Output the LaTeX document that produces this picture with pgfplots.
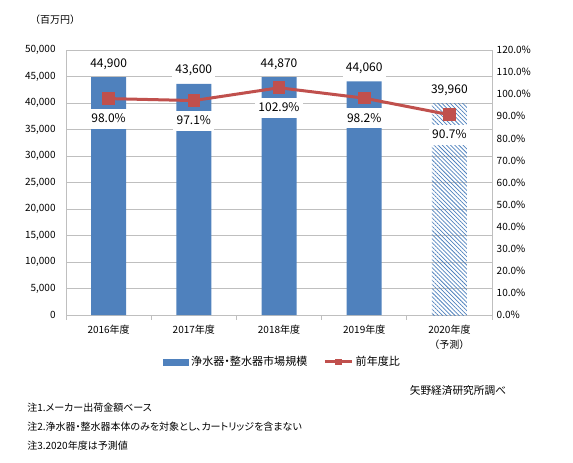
\documentclass[border=0pt]{standalone}
\usepackage{fontspec}
\setmainfont{Noto Sans CJK JP}[RawFeature=+palt]
\newfontfamily\fullw{Noto Sans CJK JP}
\usepackage{pgfplots}
\pgfplotsset{compat=1.18}
\usetikzlibrary{patterns.meta}
\definecolor{barblue}{HTML}{4F81BD}
\definecolor{linered}{HTML}{C0504D}
\definecolor{gridgray}{HTML}{BFBFBF}

\pgfplotsset{
  chartbase/.style={
    at={(49.5pt,110.25pt)}, anchor=south west,
    scale only axis, width=319.5pt, height=198.75pt,
    xmin=-0.5, xmax=4.5,
    /pgf/number format/assume math mode=true,
    /pgf/number format/1000 sep={,},
  },
}
\tikzset{
  labelbox/.style={fill=white, inner xsep=2.5pt, inner ysep=3.5pt,
    text height=7pt, text depth=1pt, font=\fontsize{9}{11}\selectfont, text=black},
}

\begin{document}
\begin{tikzpicture}
\path (0,0) rectangle (429.75pt,346.5pt);

% unit label
\node[font=\fullw\fontsize{7.5}{9}\selectfont] at (41.25pt,331.5pt) {（百万円）};

\begin{axis}[
  chartbase,
  ymin=0, ymax=50000,
  ytick={0,5000,...,50000},
  scaled y ticks=false,
  yticklabel style={font=\fontsize{7.5}{9}\selectfont},
  ytick style={draw=none},
  xtick={0,...,4},
  xticklabels={2016年度,2017年度,2018年度,2019年度,{2020年度\\（予測）}},
  xticklabel style={align=center, font=\fullw\fontsize{7.5}{11}\selectfont},
  major x tick style={draw=none},
  minor xtick={-0.5,0.5,1.5,2.5,3.5,4.5},
  minor x tick style={gridgray, line width=0.75pt},
  tick align=outside, minor tick length=3.5pt,
  xtick pos=bottom, ytick pos=left,
  ymajorgrids, grid style={gridgray, line width=0.75pt},
  axis line style={gridgray, line width=0.75pt},
  nodes near coords,
  every node near coord/.append style={labelbox, anchor=center, yshift=10.5pt},
]
\addplot[ybar, bar width=26.25pt, bar shift=0pt, fill=barblue, draw=none]
  coordinates {(0,44900) (1,43600) (2,44870) (3,44060)};
\addplot[ybar, bar width=26.25pt, bar shift=0pt, draw=none,
  pattern={Lines[angle=-45, distance=2.2pt, line width=0.55pt]}, pattern color=barblue]
  coordinates {(4,39960)};
\end{axis}

\begin{axis}[
  chartbase,
  ymin=0, ymax=120,
  axis x line=none, axis y line*=right,
  ytick={0,10,...,120},
  yticklabel={\pgfmathprintnumber[fixed,fixed zerofill,precision=1]{\tick}\%},
  yticklabel style={font=\fontsize{7.5}{9}\selectfont},
  ytick style={draw=none},
  axis line style={gridgray, line width=0.75pt},
  legend style={at={(0.509,-0.177)}, anchor=center, draw=none, fill=none,
    legend columns=2, font=\fontsize{8.3}{10}\selectfont,
    /tikz/every even column/.append style={column sep=10pt}},
]
\addlegendimage{legend image code/.code={\fill[barblue] (0pt,-2.25pt) rectangle (18.75pt,2.25pt);}}
\addlegendentry{浄水器・整水器市場規模}
\addlegendimage{legend image code/.code={\draw[linered, line width=2.25pt] (0pt,0pt) -- (20pt,0pt);
    \fill[linered] (7.75pt,-2pt) rectangle (12.25pt,2pt);}}
\addlegendentry{前年度比}
\addplot[forget plot, linered, line width=2.25pt, mark=square*, mark size=3.6pt,
  nodes near coords={\pgfmathprintnumber[fixed,fixed zerofill,precision=1]{\pgfplotspointmeta}\%},
  every node near coord/.append style={labelbox, anchor=center, yshift=-15pt}]
  coordinates {(0,98.0) (1,97.1) (2,102.9) (3,98.2) (4,90.7)};
\end{axis}

% source and notes
\node[font=\fontsize{8}{10}\selectfont] at (343.5pt,54pt) {矢野経済研究所調べ};
\node[anchor=west, inner sep=0pt, font=\fontsize{7.5}{9}\selectfont] at (20.25pt,40.5pt) {注1.メーカー出荷金額ベース};
\node[anchor=west, inner sep=0pt, font=\fontsize{7.5}{9}\selectfont] at (20.25pt,26.25pt) {注2.浄水器・整水器本体のみを対象とし、カートリッジを含まない};
\node[anchor=west, inner sep=0pt, font=\fontsize{7.5}{9}\selectfont] at (20.25pt,12pt) {注3.2020年度は予測値};
\end{tikzpicture}
\end{document}
